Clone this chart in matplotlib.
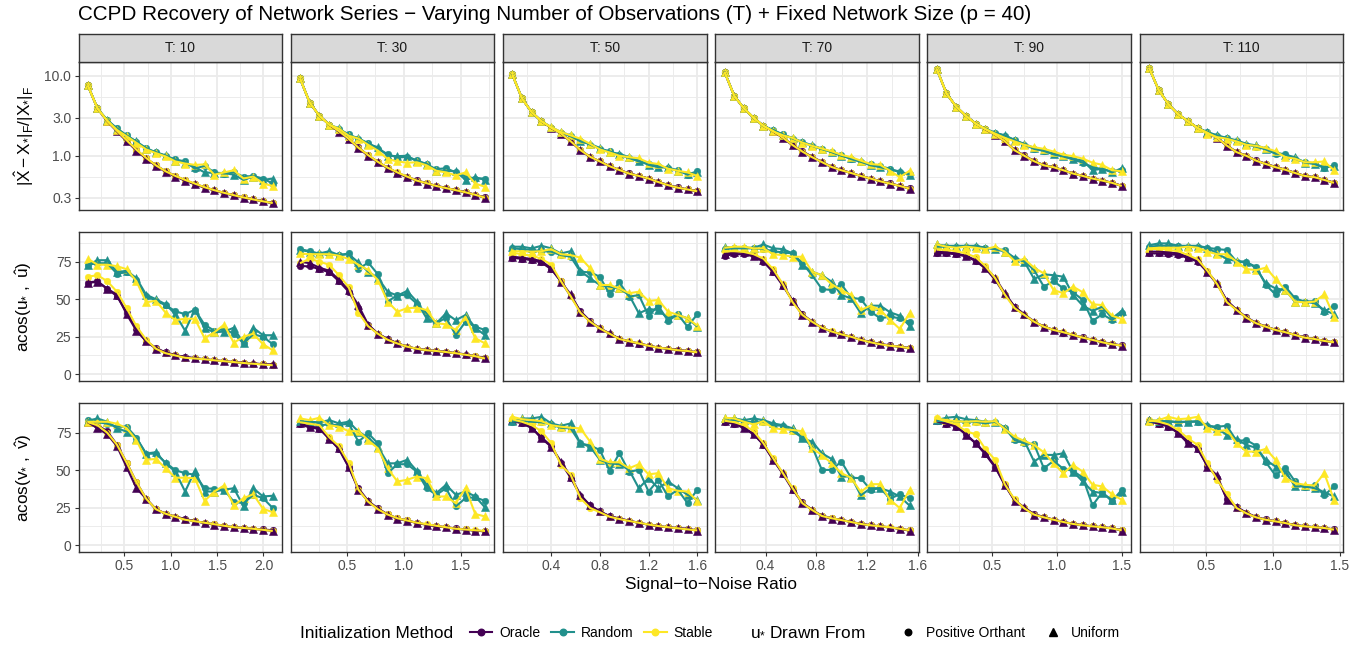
import numpy as np
import matplotlib
matplotlib.use("Agg")
import matplotlib.pyplot as plt
from matplotlib.lines import Line2D
from matplotlib.ticker import FixedLocator, FixedFormatter, NullFormatter

plt.rcParams['font.family'] = ['Liberation Sans', 'DejaVu Sans']
plt.rcParams['mathtext.fontset'] = 'custom'
plt.rcParams['mathtext.rm'] = 'Liberation Sans'
plt.rcParams['mathtext.it'] = 'Liberation Sans'
plt.rcParams['mathtext.bf'] = 'Liberation Sans:bold'
plt.rcParams['mathtext.sf'] = 'Liberation Sans'

# ---------------- data ----------------
T_VALUES = [10, 30, 50, 70, 90, 110]
SNR_STEP = [0.105, 0.0857, 0.08, 0.0767, 0.075, 0.0728]   # SNR grid spacing per T (20 levels each)
N_SNR = 20
X_TICKS = [[0.5, 1.0, 1.5, 2.0], [0.5, 1.0, 1.5], [0.4, 0.8, 1.2, 1.6],
           [0.4, 0.8, 1.2, 1.6], [0.5, 1.0, 1.5], [0.5, 1.0, 1.5]]
METHODS = ['Oracle', 'Random', 'Stable']
DISTS = ['Positive Orthant', 'Uniform']
METHOD_COLORS = ['#440154', '#21908C', '#FDE725']
DIST_MARKERS = ['o', '^']

# --- Row 1: relative Frobenius error ---
frob_t10 = dict(
    oracle_po=[7.6, 3.9, 2.72, 2.04, 1.55, 1.18, 0.93, 0.76, 0.64, 0.56, 0.495, 0.445, 0.405, 0.372, 0.345, 0.322, 0.302, 0.286, 0.271, 0.258],
    oracle_u=[7.6, 3.9, 2.7, 2.02, 1.52, 1.16, 0.92, 0.75, 0.63, 0.55, 0.49, 0.44, 0.40, 0.37, 0.34, 0.32, 0.30, 0.285, 0.27, 0.255],
    random_po=[7.6, 3.9, 2.8, 2.2, 1.8, 1.5, 1.25, 1.1, 1.0, 0.9, 0.85, 0.69, 0.75, 0.62, 0.60, 0.62, 0.55, 0.56, 0.52, 0.45],
    random_u=[7.6, 3.9, 2.78, 2.18, 1.77, 1.51, 1.22, 1.11, 1.01, 0.87, 0.82, 0.72, 0.62, 0.61, 0.61, 0.58, 0.50, 0.55, 0.50, 0.52],
    stable_po=[7.6, 3.9, 2.72, 2.05, 1.56, 1.19, 0.94, 0.76, 0.64, 0.56, 0.50, 0.45, 0.405, 0.372, 0.345, 0.322, 0.302, 0.285, 0.27, 0.257],
    stable_u=[7.6, 3.9, 2.75, 2.1, 1.75, 1.45, 1.2, 1.08, 0.98, 0.85, 0.80, 0.77, 0.78, 0.58, 0.62, 0.66, 0.52, 0.55, 0.45, 0.42],
)
frob_t30 = dict(
    oracle_po=[9.26, 4.6, 3.15, 2.45, 2.02, 1.62, 1.27, 1.01, 0.84, 0.71, 0.615, 0.545, 0.495, 0.455, 0.422, 0.397, 0.372, 0.352, 0.327, 0.302],
    oracle_u=[9.26, 4.6, 3.15, 2.45, 2.0, 1.6, 1.25, 1.0, 0.83, 0.70, 0.61, 0.54, 0.49, 0.45, 0.42, 0.395, 0.37, 0.35, 0.325, 0.30],
    random_po=[9.26, 4.6, 3.15, 2.45, 2.15, 1.85, 1.62, 1.45, 1.22, 1.05, 0.95, 0.97, 0.88, 0.78, 0.68, 0.70, 0.62, 0.55, 0.52, 0.52],
    random_u=[9.26, 4.6, 3.15, 2.45, 2.2, 1.8, 1.67, 1.4, 1.28, 1.0, 0.99, 1.0, 0.85, 0.8, 0.65, 0.65, 0.64, 0.5, 0.54, 0.5],
    stable_po=[9.26, 4.6, 3.15, 2.45, 2.03, 1.63, 1.26, 1.02, 0.84, 0.71, 0.62, 0.55, 0.49, 0.455, 0.42, 0.395, 0.372, 0.35, 0.326, 0.30],
    stable_u=[9.26, 4.6, 3.15, 2.45, 2.18, 1.78, 1.64, 1.37, 1.16, 0.91, 0.85, 0.82, 0.83, 0.76, 0.65, 0.62, 0.57, 0.62, 0.45, 0.41],
)
frob_t50 = dict(
    oracle_po=[10.4, 5.2, 3.5, 2.7, 2.24, 1.9, 1.53, 1.18, 0.97, 0.85, 0.745, 0.665, 0.605, 0.56, 0.52, 0.472, 0.433, 0.402, 0.38, 0.36],
    oracle_u=[10.4, 5.2, 3.5, 2.7, 2.22, 1.89, 1.51, 1.17, 0.96, 0.85, 0.74, 0.66, 0.60, 0.56, 0.52, 0.47, 0.43, 0.40, 0.38, 0.36],
    random_po=[10.4, 5.2, 3.5, 2.7, 2.25, 1.95, 1.75, 1.55, 1.38, 1.22, 1.14, 1.02, 0.94, 0.85, 0.80, 0.74, 0.70, 0.66, 0.58, 0.64],
    random_u=[10.4, 5.2, 3.5, 2.7, 2.28, 1.98, 1.8, 1.51, 1.41, 1.25, 1.11, 1.06, 0.96, 0.87, 0.77, 0.72, 0.72, 0.65, 0.60, 0.62],
    stable_po=[10.4, 5.2, 3.5, 2.7, 2.23, 1.9, 1.52, 1.18, 0.97, 0.85, 0.74, 0.665, 0.60, 0.56, 0.52, 0.47, 0.43, 0.40, 0.38, 0.36],
    stable_u=[10.4, 5.2, 3.5, 2.7, 2.28, 1.98, 1.8, 1.63, 1.41, 1.2, 1.1, 1.0, 0.96, 0.93, 0.82, 0.79, 0.69, 0.65, 0.62, 0.56],
)
frob_t70 = dict(
    oracle_po=[11.2, 5.6, 3.9, 2.97, 2.38, 2.03, 1.68, 1.36, 1.14, 0.97, 0.84, 0.73, 0.665, 0.61, 0.56, 0.52, 0.482, 0.452, 0.422, 0.392],
    oracle_u=[11.2, 5.6, 3.9, 2.97, 2.36, 2.02, 1.67, 1.35, 1.13, 0.96, 0.83, 0.72, 0.66, 0.61, 0.56, 0.52, 0.48, 0.45, 0.42, 0.39],
    random_po=[11.2, 5.6, 3.9, 2.97, 2.36, 2.08, 1.85, 1.64, 1.47, 1.33, 1.21, 1.12, 1.02, 0.91, 0.84, 0.78, 0.74, 0.69, 0.62, 0.60],
    random_u=[11.2, 5.6, 3.9, 2.97, 2.36, 2.1, 1.83, 1.67, 1.49, 1.35, 1.23, 1.11, 1.0, 0.93, 0.85, 0.76, 0.72, 0.67, 0.64, 0.58],
    stable_po=[11.2, 5.6, 3.9, 2.97, 2.37, 2.03, 1.68, 1.36, 1.13, 0.96, 0.835, 0.725, 0.66, 0.61, 0.56, 0.52, 0.48, 0.45, 0.42, 0.39],
    stable_u=[11.2, 5.6, 3.9, 2.97, 2.36, 2.02, 1.8, 1.67, 1.46, 1.33, 1.23, 1.14, 1.03, 0.96, 0.87, 0.79, 0.77, 0.65, 0.54, 0.65],
)
frob_t90 = dict(
    oracle_po=[12.1, 6.0, 4.1, 3.15, 2.53, 2.15, 1.84, 1.52, 1.18, 1.01, 0.86, 0.765, 0.72, 0.66, 0.60, 0.56, 0.52, 0.49, 0.462, 0.422],
    oracle_u=[12.1, 6.0, 4.1, 3.15, 2.52, 2.14, 1.83, 1.51, 1.17, 1.0, 0.85, 0.76, 0.72, 0.66, 0.60, 0.56, 0.52, 0.49, 0.46, 0.42],
    random_po=[12.1, 6.0, 4.1, 3.15, 2.52, 2.16, 1.92, 1.78, 1.58, 1.38, 1.22, 1.15, 1.04, 0.98, 0.90, 0.82, 0.72, 0.68, 0.64, 0.66],
    random_u=[12.1, 6.0, 4.1, 3.15, 2.52, 2.18, 1.94, 1.8, 1.56, 1.41, 1.25, 1.17, 1.06, 1.0, 0.92, 0.87, 0.66, 0.69, 0.62, 0.70],
    stable_po=[12.1, 6.0, 4.1, 3.15, 2.52, 2.15, 1.83, 1.52, 1.17, 1.0, 0.855, 0.76, 0.72, 0.66, 0.60, 0.56, 0.52, 0.49, 0.46, 0.42],
    stable_u=[12.1, 6.0, 4.1, 3.15, 2.52, 2.16, 1.89, 1.67, 1.51, 1.37, 1.28, 1.22, 1.13, 1.03, 0.99, 0.92, 0.82, 0.77, 0.66, 0.64],
)
frob_t110 = dict(
    oracle_po=[12.6, 6.6, 4.4, 3.3, 2.7, 2.23, 1.95, 1.68, 1.34, 1.12, 1.0, 0.875, 0.795, 0.725, 0.672, 0.612, 0.562, 0.54, 0.502, 0.462],
    oracle_u=[12.6, 6.6, 4.4, 3.3, 2.7, 2.22, 1.94, 1.67, 1.33, 1.11, 1.0, 0.87, 0.79, 0.72, 0.67, 0.61, 0.56, 0.54, 0.50, 0.46],
    random_po=[12.6, 6.6, 4.4, 3.3, 2.7, 2.22, 1.96, 1.78, 1.65, 1.52, 1.38, 1.3, 1.2, 1.06, 1.05, 0.92, 0.84, 0.80, 0.70, 0.76],
    random_u=[12.6, 6.6, 4.4, 3.3, 2.7, 2.22, 1.98, 1.8, 1.67, 1.56, 1.41, 1.35, 1.23, 1.1, 1.03, 0.96, 0.82, 0.79, 0.72, 0.74],
    stable_po=[12.6, 6.6, 4.4, 3.3, 2.7, 2.22, 1.94, 1.67, 1.34, 1.11, 1.0, 0.87, 0.79, 0.72, 0.67, 0.61, 0.56, 0.54, 0.50, 0.46],
    stable_u=[12.6, 6.6, 4.4, 3.3, 2.7, 2.22, 1.89, 1.71, 1.63, 1.51, 1.37, 1.33, 1.25, 1.14, 0.96, 0.92, 0.83, 0.83, 0.85, 0.66],
)

# --- Row 2: angle between u* and u-hat (degrees) ---
acos_u_t10 = dict(
    oracle_po=[61, 62, 57, 52, 41, 30, 22, 17.5, 14.5, 12.8, 11.5, 10.8, 10, 9.3, 8.7, 8.2, 7.6, 7.1, 6.6, 6.2],
    oracle_u=[61, 61.5, 57, 53, 40, 29, 22, 17, 14.5, 12.5, 11.5, 10.5, 10, 9.3, 8.7, 8, 7.7, 7.2, 6.7, 6.5],
    random_po=[73, 74, 74, 67, 68, 63, 52, 49, 46, 42, 40, 43, 33, 29, 30, 27, 20.6, 26.6, 25, 20],
    random_u=[72.8, 76, 76, 68, 69, 64, 53, 50, 46.6, 40, 29, 43, 30.6, 28, 28.4, 31, 20.6, 31, 26, 26],
    stable_po=[65, 66, 62, 55, 44, 32, 23, 17, 14, 12.5, 11, 10.5, 10, 9.3, 8.7, 8.1, 7.5, 7, 6.5, 6],
    stable_u=[77, 73, 73, 72, 70, 62, 48, 49, 41, 36, 37, 37, 24, 28, 33, 21, 25, 27, 20, 16],
)
acos_u_t30 = dict(
    oracle_po=[72, 72, 70, 68, 62, 55, 44, 33, 27, 23.5, 20.6, 18.4, 17, 16, 15.5, 14.8, 14, 13, 12, 11],
    oracle_u=[75, 74, 71, 69, 63, 56, 46, 33, 27, 23.5, 20.6, 18.4, 16.9, 16.2, 15.5, 15, 14, 13.3, 11.8, 10.6],
    random_po=[83.4, 82, 80, 80, 79.4, 80.5, 70, 74.5, 66.6, 48.4, 52.8, 52.8, 47, 40.6, 34, 37.7, 26, 35, 31.7, 29.5],
    random_u=[82.8, 81.7, 80.5, 82, 79.4, 80, 74.5, 68.3, 64.3, 55, 52.4, 55.5, 48.4, 37.3, 34, 40.6, 36, 39.5, 31, 26],
    stable_po=[74, 77, 75, 73, 66, 58, 41, 32, 27, 23, 20.5, 18.4, 17, 16, 15.5, 14.8, 14, 13, 12, 10.5],
    stable_u=[80.5, 80, 80, 80, 79, 76.8, 73, 69.4, 62.8, 48.4, 41.7, 44, 44.4, 42.8, 34, 33.3, 29.5, 38.4, 24, 20.6],
)
acos_u_t50 = dict(
    oracle_po=[77.5, 77, 76, 74.5, 70, 62, 52, 42, 35.5, 30.5, 27, 23.8, 21.8, 20.4, 19, 17.8, 17, 16.2, 15.4, 14.7],
    oracle_u=[78.3, 77.7, 76.8, 75.4, 70.6, 61.7, 53.2, 41.7, 35, 30.6, 27.3, 23.5, 21.7, 20.6, 19.1, 17.7, 16.9, 16.2, 15.5, 14.6],
    random_po=[83.9, 83.4, 82.8, 82, 81.7, 79.4, 78.3, 68.3, 67.9, 65, 53.2, 61.2, 51.7, 52.8, 39, 45.7, 35.5, 40, 31.7, 40],
    random_u=[85, 85, 83.9, 85.6, 83.9, 80.5, 82, 68.8, 63.9, 59.5, 58.4, 57.2, 52.8, 40.6, 43.5, 42.8, 37.3, 39.5, 37.3, 31.7],
    stable_po=[81, 80, 79, 77, 73, 62, 52, 41, 35, 30.5, 27, 23.5, 22, 20.5, 19, 17.7, 17, 16, 15.5, 14.6],
    stable_u=[82, 82, 81.7, 82, 83.4, 80, 79.4, 77.7, 70.6, 59.5, 59.5, 57.2, 54, 55, 48.8, 49.5, 41.7, 39.5, 37.3, 32.4],
)
acos_u_t70 = dict(
    oracle_po=[79, 80, 80, 78.5, 75, 68, 59, 49, 40, 35, 31, 28.4, 26.5, 25, 23, 21.5, 20.2, 19.2, 18.3, 17.5],
    oracle_u=[80, 81.2, 81.2, 79, 76, 68.8, 59.5, 48.8, 39.5, 35, 31, 28.4, 26.6, 25, 22.9, 21.3, 20, 19, 18.4, 17.3],
    random_po=[83.4, 83.9, 83.9, 83.9, 83.4, 82, 81.2, 80.5, 73.9, 66, 56.8, 56.1, 60, 51, 50.1, 41.7, 37.3, 38.4, 37.3, 35],
    random_u=[85, 84.3, 84.3, 84.3, 86.5, 83.9, 83.4, 80.5, 72.8, 68.3, 66, 61.7, 52.8, 50.6, 40.6, 45.7, 45.7, 41.3, 39, 32.4],
    stable_po=[82, 82, 81.5, 80, 77, 70, 60, 48, 39.5, 35, 31, 28.5, 26.6, 25, 22.9, 21.3, 20, 19, 18.4, 17.3],
    stable_u=[84.3, 85, 85, 83.9, 83.9, 80, 79.4, 78.3, 78.3, 68.3, 66, 60, 56.1, 52.8, 42.8, 45.7, 42.8, 36.2, 30.2, 40.6],
)
acos_u_t90 = dict(
    oracle_po=[80.5, 80.5, 80, 78.5, 75.5, 70.5, 63, 53, 45, 39.5, 35, 31.8, 29.5, 27.8, 26, 24.5, 23, 21.5, 20.2, 19.2],
    oracle_u=[81.7, 81.2, 80.5, 79, 76, 71, 64.3, 54, 45, 40, 35, 31.7, 29.5, 28, 26.2, 24.4, 22.9, 21.3, 20, 19.1],
    random_po=[85, 85, 85, 85, 85, 84.3, 83.4, 82.8, 76.8, 75.4, 69.4, 58.4, 62.1, 57.2, 54.6, 49.5, 35.5, 40, 36.2, 40.6],
    random_u=[86.5, 85.6, 85.6, 85.6, 85.6, 84.3, 83.4, 81.7, 77.7, 75, 63.5, 66.6, 66, 65, 52.8, 45.7, 42.2, 45, 37.3, 42.2],
    stable_po=[83, 83, 82, 80.5, 78, 72, 64, 53, 44, 39.5, 35, 31.7, 29.5, 28, 26.2, 24.4, 22.9, 21.3, 20, 19.1],
    stable_u=[86.5, 85, 84.3, 85, 84.3, 83.4, 85, 81.7, 75.4, 76.8, 71, 67.2, 56.1, 54, 58.4, 54.6, 46.6, 46.1, 39, 36.8],
)
acos_u_t110 = dict(
    oracle_po=[80.5, 80.5, 80, 79.5, 77.5, 75, 68, 60, 49, 43, 38, 34.2, 31.8, 29.6, 28, 26.3, 24.6, 23.4, 22.2, 21.2],
    oracle_u=[81.7, 81.7, 81.2, 80.5, 78.3, 76, 68.3, 60.6, 48.8, 42.8, 37.7, 34, 31.7, 29.5, 28, 26.2, 24.4, 23.5, 22.2, 21.3],
    random_po=[85, 85.6, 85.6, 85.6, 85, 85, 84.3, 83.4, 82.8, 75, 74.5, 71.7, 59.5, 53.2, 58.4, 50.6, 48.4, 48.8, 41.7, 45.7],
    random_u=[86, 87.2, 87.2, 85.6, 85.6, 85.6, 84.3, 80.5, 76.8, 75.4, 75, 70.6, 60.6, 57.2, 56.1, 48.4, 48.4, 47.3, 42.8, 40],
    stable_po=[83.5, 83.5, 83, 82, 79.5, 76.5, 69, 60, 48, 42.8, 37.7, 34, 31.7, 29.5, 28, 26.2, 24.4, 23.5, 22.2, 21.3],
    stable_u=[83.9, 84.3, 84.3, 84.3, 85, 84.3, 81.7, 80, 80, 75, 70.1, 69.4, 71, 63.5, 56.1, 48.4, 47.9, 48.4, 53.2, 38.4],
)

# --- Row 3: angle between v* and v-hat (degrees) ---
acos_v_t10 = dict(
    oracle_po=[82, 80, 76, 67, 55, 42, 31, 24, 21, 19, 17.5, 16, 15, 14, 13, 12, 11.5, 11, 10.5, 10],
    oracle_u=[82, 78, 74, 66, 52, 38, 31, 24, 21, 19, 17.5, 16, 14.8, 13.7, 12.6, 12, 11.5, 10.8, 10.4, 9.5],
    random_po=[83.4, 82, 81, 79, 79, 71.7, 61, 61, 55, 50, 48, 47, 38, 37.6, 37, 29, 28, 33.6, 31.4, 24.8],
    random_u=[83, 84.5, 82.3, 78, 75.7, 71, 61, 62, 54.6, 49, 35.8, 49.6, 35.8, 35.8, 37, 38, 25.9, 38, 32.5, 33],
    stable_po=[82, 80, 75, 67, 55, 42, 31, 24, 21, 19, 17, 16, 15, 14, 13, 12, 11.5, 11, 10.3, 9.5],
    stable_u=[82.3, 82.3, 82.3, 81, 78, 70, 57, 57.5, 51.3, 45, 45, 44.7, 29.6, 35.8, 39.8, 26.5, 31.4, 34, 24.3, 22],
)
acos_v_t30 = dict(
    oracle_po=[80.5, 78.5, 77.5, 71, 64, 52, 38, 29.5, 24.5, 20.6, 18, 16.5, 15, 13.8, 12.8, 12, 11.2, 10.5, 9.8, 9.3],
    oracle_u=[81.2, 79, 78.3, 70.8, 64.6, 52.4, 37, 29.2, 24.3, 20.4, 17.7, 16.4, 14.8, 13.7, 12.6, 12, 11, 10.4, 9.7, 9.3],
    random_po=[81.9, 81.2, 80, 80.5, 80, 81.2, 69, 74.6, 67.9, 48, 54, 54, 49, 38, 33.6, 38, 25.9, 31.4, 31.9, 29.6],
    random_u=[82.7, 82.3, 81.9, 83.4, 81.2, 82.3, 75.7, 71.7, 65.7, 54.6, 54.6, 56.9, 49.6, 40.3, 34.7, 40.3, 33.6, 35.8, 32.5, 25.2],
    stable_po=[82, 81, 80, 72, 66, 55, 37, 29, 24, 20.5, 18, 16.5, 15, 14, 13, 12, 11, 10.5, 10, 9.5],
    stable_u=[84.5, 83.4, 85, 80, 79, 76, 76, 70, 64.6, 51.3, 42.5, 43.6, 45.8, 44.7, 32.5, 32.5, 28, 38, 20.8, 19.2],
)
acos_v_t50 = dict(
    oracle_po=[82.5, 81.5, 78, 72, 66, 55, 45, 33, 26.5, 22.5, 19.5, 17.8, 16.3, 15, 13.8, 12.8, 12, 11.3, 10.7, 10],
    oracle_u=[83.4, 81.9, 78.3, 71.2, 65.7, 55.8, 45.8, 33.6, 26.5, 22.6, 19.2, 17.7, 16.4, 14.8, 13.7, 12.6, 12, 11.5, 11, 9.7],
    random_po=[82.3, 82.7, 82.3, 81.9, 80.5, 78.3, 77.9, 67.9, 66.4, 63.5, 49.6, 61.3, 49, 50.2, 35.8, 43.6, 32.5, 37, 28, 37],
    random_u=[82.7, 84.5, 84.5, 85.6, 81.2, 79.6, 81.2, 67.9, 65.7, 56.9, 54.6, 54, 50.2, 38, 44.7, 38, 42.5, 38, 33.6, 30.3],
    stable_po=[84, 82.3, 80, 76, 68, 53.5, 47, 31.4, 24.8, 22, 19, 17.5, 16.2, 15, 13.8, 12.8, 12, 11.3, 10.6, 9.9],
    stable_u=[85.6, 84, 83.4, 82.7, 80, 79, 78.3, 77.9, 69, 57.5, 55.3, 55.3, 51.3, 54, 47.3, 48, 38, 36.3, 35.8, 29.6],
)
acos_v_t70 = dict(
    oracle_po=[82, 81, 78.5, 74, 67, 57, 47.5, 37, 28.5, 23.5, 19.8, 18, 16.8, 15.5, 14.3, 13.3, 12.5, 11.8, 11, 10],
    oracle_u=[82.7, 81.2, 77.9, 73.9, 67.3, 56.9, 48, 37.6, 28, 23.7, 19.2, 17.7, 17, 15.5, 14.2, 13.3, 12.6, 12, 11, 9.7],
    random_po=[82.7, 83.4, 82.3, 82.3, 82.3, 80, 79.6, 76, 71.7, 65.7, 50.2, 50.2, 55.8, 45, 44.7, 37, 38, 31, 34, 31.4],
    random_u=[84.5, 84.5, 83.4, 84.5, 83.4, 81.2, 80, 77.9, 71.2, 69, 61.3, 57.5, 45.8, 45.8, 33.2, 38, 38, 35.8, 32.5, 26.5],
    stable_po=[83, 82, 80, 76, 68, 58, 48, 38, 28, 23.5, 19.5, 18, 16.8, 15.5, 14.2, 13.3, 12.6, 12, 11, 10],
    stable_u=[85, 84.5, 82.3, 80.5, 82.7, 77.9, 77.4, 76.8, 76, 64.6, 60.2, 54.6, 48, 45, 35.4, 40.7, 40.7, 30.3, 24.8, 37],
)
acos_v_t90 = dict(
    oracle_po=[82.5, 81, 79, 74, 68, 60.5, 52, 40, 30, 25, 20.8, 18.8, 17.1, 15.6, 14.3, 13.4, 12.6, 11.9, 11.2, 10.2],
    oracle_u=[83.4, 81.2, 79.6, 73.5, 67.9, 61.3, 52.4, 40.3, 29.6, 25.2, 20.4, 18.6, 17, 15.5, 14.2, 13.3, 12.6, 12, 11.5, 9.7],
    random_po=[82.7, 82.7, 82.7, 82.3, 82.3, 81.2, 82.3, 77.9, 70.1, 67.9, 67.3, 51.3, 56.2, 50.9, 49.6, 45, 26.5, 35.4, 29.2, 37],
    random_u=[83.4, 85, 85.6, 84, 83.4, 82.3, 82.3, 78.3, 71.2, 69.5, 55.8, 60.2, 60.2, 61.3, 49, 42.5, 35.8, 34.7, 30.3, 35.4],
    stable_po=[84.5, 82.5, 80.5, 76, 73.9, 64, 56.9, 40.5, 30.5, 24.5, 20.4, 18.6, 17, 15.5, 14.2, 13.3, 12.6, 12, 11.2, 10],
    stable_u=[84.5, 83.4, 82.7, 82.3, 82.7, 82.3, 82.7, 77.4, 72.3, 69.5, 66.8, 61.9, 54.6, 48, 53.5, 49, 40.3, 39.2, 34, 30.3],
)
acos_v_t110 = dict(
    oracle_po=[82.5, 81, 79, 75, 69, 64, 53, 45, 31, 25.5, 21.7, 18.8, 17.2, 16, 14.8, 13.5, 12.7, 12, 11.4, 10.6],
    oracle_u=[83.4, 81.2, 79.6, 74.6, 67.9, 65, 52.4, 46.5, 30.3, 25.2, 21.5, 18.6, 17, 15.9, 14.8, 13.3, 12.6, 12, 11.5, 10.4],
    random_po=[82.3, 82.7, 82.3, 82.3, 82.3, 82.3, 79.6, 79, 79.6, 69.5, 70.1, 66.4, 55.3, 46.5, 51.8, 42.5, 38.5, 40.3, 33.2, 39.2],
    random_u=[83.4, 82.7, 82.7, 81.9, 82.3, 82.7, 80, 77.9, 73.5, 70.8, 66.8, 65, 56.9, 52.4, 49, 39.2, 39.2, 38, 35.4, 32.5],
    stable_po=[83.4, 82.3, 80.5, 76.8, 71.2, 66.8, 54.6, 43.6, 34, 24.8, 21.3, 18.6, 17, 15.9, 14.8, 13.3, 12.6, 12, 11.5, 10.4],
    stable_u=[82.7, 83.4, 85.6, 84, 84.5, 85.6, 78.3, 76, 76.8, 67.9, 62.4, 62.4, 64.2, 56.9, 44.7, 41.4, 40.3, 39.8, 48, 30.3],
)

ROW_DATA = [
    [frob_t10, frob_t30, frob_t50, frob_t70, frob_t90, frob_t110],
    [acos_u_t10, acos_u_t30, acos_u_t50, acos_u_t70, acos_u_t90, acos_u_t110],
    [acos_v_t10, acos_v_t30, acos_v_t50, acos_v_t70, acos_v_t90, acos_v_t110],
]
ROW_LABELS = [r'$|\hat{X} - X_{*}|_{F} / |X_{*}|_{F}$',
              r'acos$(u_{*}\ ,\ \hat{u})$',
              r'acos$(v_{*}\ ,\ \hat{v})$']
METHOD_KEYS = ['oracle', 'random', 'stable']
DIST_KEYS = ['po', 'u']

# ---------------- layout ----------------
W, H = 1372, 648
fig = plt.figure(figsize=(W / 100, H / 100), dpi=100)
fig.patch.set_facecolor('white')

COL_LEFT0, COL_PITCH, PANEL_W = 78.5, 212.25, 203.5
ROW_TOP = [61.7, 232.3, 403.3]
PANEL_H = 148.7
STRIP_TOP, STRIP_H = 33.5, 28.2

FS_SMALL = 10.0     # tick labels, strip text, legend labels
FS_BASE = 12.4      # axis titles, legend titles
FS_TITLE = 14.9

TXT = '#4D4D4D'
BORDER = '#333333'
GRID = '#EBEBEB'
LW = 1.5
MS_CIRC, MS_TRI = 4.7, 5.6


def rect(left, top, w, h):
    return [left / W, 1 - (top + h) / H, w / W, h / H]


for r in range(3):
    for c in range(6):
        left = COL_LEFT0 + c * COL_PITCH
        ax = fig.add_axes(rect(left, ROW_TOP[r], PANEL_W, PANEL_H))
        panel = ROW_DATA[r][c]
        x = np.round(SNR_STEP[c] * np.arange(1, N_SNR + 1), 4)

        # points: drawn distribution by distribution
        for di, dk in enumerate(DIST_KEYS):
            for mi, mk in enumerate(METHOD_KEYS):
                y = panel[f'{mk}_{dk}']
                ax.plot(x, y, ls='none', marker=DIST_MARKERS[di],
                        ms=MS_CIRC if di == 0 else MS_TRI, color=METHOD_COLORS[mi],
                        mec=METHOD_COLORS[mi], mew=0.4, zorder=3 + di)
        # lines
        for mi, mk in enumerate(METHOD_KEYS):
            for di, dk in enumerate(DIST_KEYS):
                y = panel[f'{mk}_{dk}']
                ax.plot(x, y, '-', color=METHOD_COLORS[mi], lw=LW,
                        zorder=6 + mi, solid_capstyle='butt')

        # x scale
        xr = x[-1] - x[0]
        ax.set_xlim(x[0] - 0.05 * xr, x[-1] + 0.05 * xr)
        xt = X_TICKS[c]
        d = xt[1] - xt[0]
        xminor = [xt[0] - d / 2] + [t + d / 2 for t in xt]
        ax.xaxis.set_major_locator(FixedLocator(xt))
        ax.xaxis.set_minor_locator(FixedLocator(xminor))
        ax.xaxis.set_major_formatter(FixedFormatter([f'{t:.1f}' for t in xt]))
        ax.xaxis.set_minor_formatter(NullFormatter())

        # y scale
        if r == 0:
            ax.set_yscale('log')
            ax.set_ylim(0.208, 14.96)
            yt = [0.3, 1.0, 3.0, 10.0]
            ymin = [np.sqrt(0.3 * 1.0), np.sqrt(1.0 * 3.0), np.sqrt(3.0 * 10.0)]
            ylabels = ['0.3', '1.0', '3.0', '10.0']
        else:
            ax.set_ylim(-4.5, 94.6)
            yt = [0, 25, 50, 75]
            ymin = [12.5, 37.5, 62.5, 87.5]
            ylabels = ['0', '25', '50', '75']
        ax.yaxis.set_major_locator(FixedLocator(yt))
        ax.yaxis.set_minor_locator(FixedLocator(ymin))
        ax.yaxis.set_major_formatter(FixedFormatter(ylabels))
        ax.yaxis.set_minor_formatter(NullFormatter())

        ax.grid(which='major', color=GRID, lw=1.3, zorder=0)
        ax.grid(which='minor', color=GRID, lw=0.65, zorder=0)
        ax.set_axisbelow(True)
        for s in ax.spines.values():
            s.set_color(BORDER)
            s.set_linewidth(1.0)
            s.set_zorder(20)

        ax.tick_params(which='minor', length=0)
        ax.tick_params(which='major', length=3.2, width=0.8, color=BORDER,
                       labelcolor=TXT, labelsize=FS_SMALL, pad=2.0)
        if c != 0:
            ax.tick_params(axis='y', which='both', left=False, labelleft=False)
        if r != 2:
            ax.tick_params(axis='x', which='both', bottom=False, labelbottom=False)

        # strip
        if r == 0:
            sax = fig.add_axes(rect(left, STRIP_TOP, PANEL_W, STRIP_H))
            sax.set_facecolor('#D9D9D9')
            sax.set_xticks([])
            sax.set_yticks([])
            for s in sax.spines.values():
                s.set_color(BORDER)
                s.set_linewidth(1.0)
            sax.text(0.5, 0.47, f'T: {T_VALUES[c]}', ha='center', va='center',
                     fontsize=FS_SMALL, color='#1A1A1A', transform=sax.transAxes)

    # row label
    fig.text(24 / W, 1 - (ROW_TOP[r] + PANEL_H / 2) / H, ROW_LABELS[r],
             rotation=90, ha='center', va='center', fontsize=FS_BASE, color='black')

# title and axis label
fig.text(78 / W, 1 - 14 / H,
         'CCPD Recovery of Network Series \u2212 Varying Number of Observations (T) + Fixed Network Size (p = 40)',
         ha='left', va='center', fontsize=FS_TITLE, color='black')
fig.text((COL_LEFT0 + 5 * COL_PITCH + PANEL_W + COL_LEFT0) / 2 / W, 1 - 585 / H,
         'Signal\u2212to\u2212Noise Ratio', ha='center', va='center', fontsize=FS_BASE)

# legends
LEG_Y = 1 - 633 / H
fig.text(300 / W, LEG_Y, 'Initialization Method', ha='left', va='center',
         fontsize=FS_BASE)
h1 = [Line2D([], [], color=METHOD_COLORS[i], lw=LW, marker='o', ms=MS_CIRC)
      for i in range(3)]
fig.legend(h1, METHODS, loc='center left', bbox_to_anchor=(470 / W, LEG_Y),
           ncol=3, frameon=False, fontsize=FS_SMALL, handlelength=1.6,
           handletextpad=0.5, columnspacing=0.8, borderpad=0, borderaxespad=0)

fig.text(750 / W, 1 - 631 / H, r'$u_{*}$ Drawn From', ha='left', va='center',
         fontsize=FS_BASE)
h2 = [Line2D([], [], color='black', ls='none', marker=DIST_MARKERS[i],
             ms=MS_CIRC if i == 0 else MS_TRI) for i in range(2)]
fig.legend(h2, DISTS, loc='center left', bbox_to_anchor=(897 / W, LEG_Y),
           ncol=2, frameon=False, fontsize=FS_SMALL, handlelength=1.6,
           handletextpad=0.5, columnspacing=1.2, borderpad=0, borderaxespad=0)

fig.savefig('out.png', dpi=100, facecolor='white')
